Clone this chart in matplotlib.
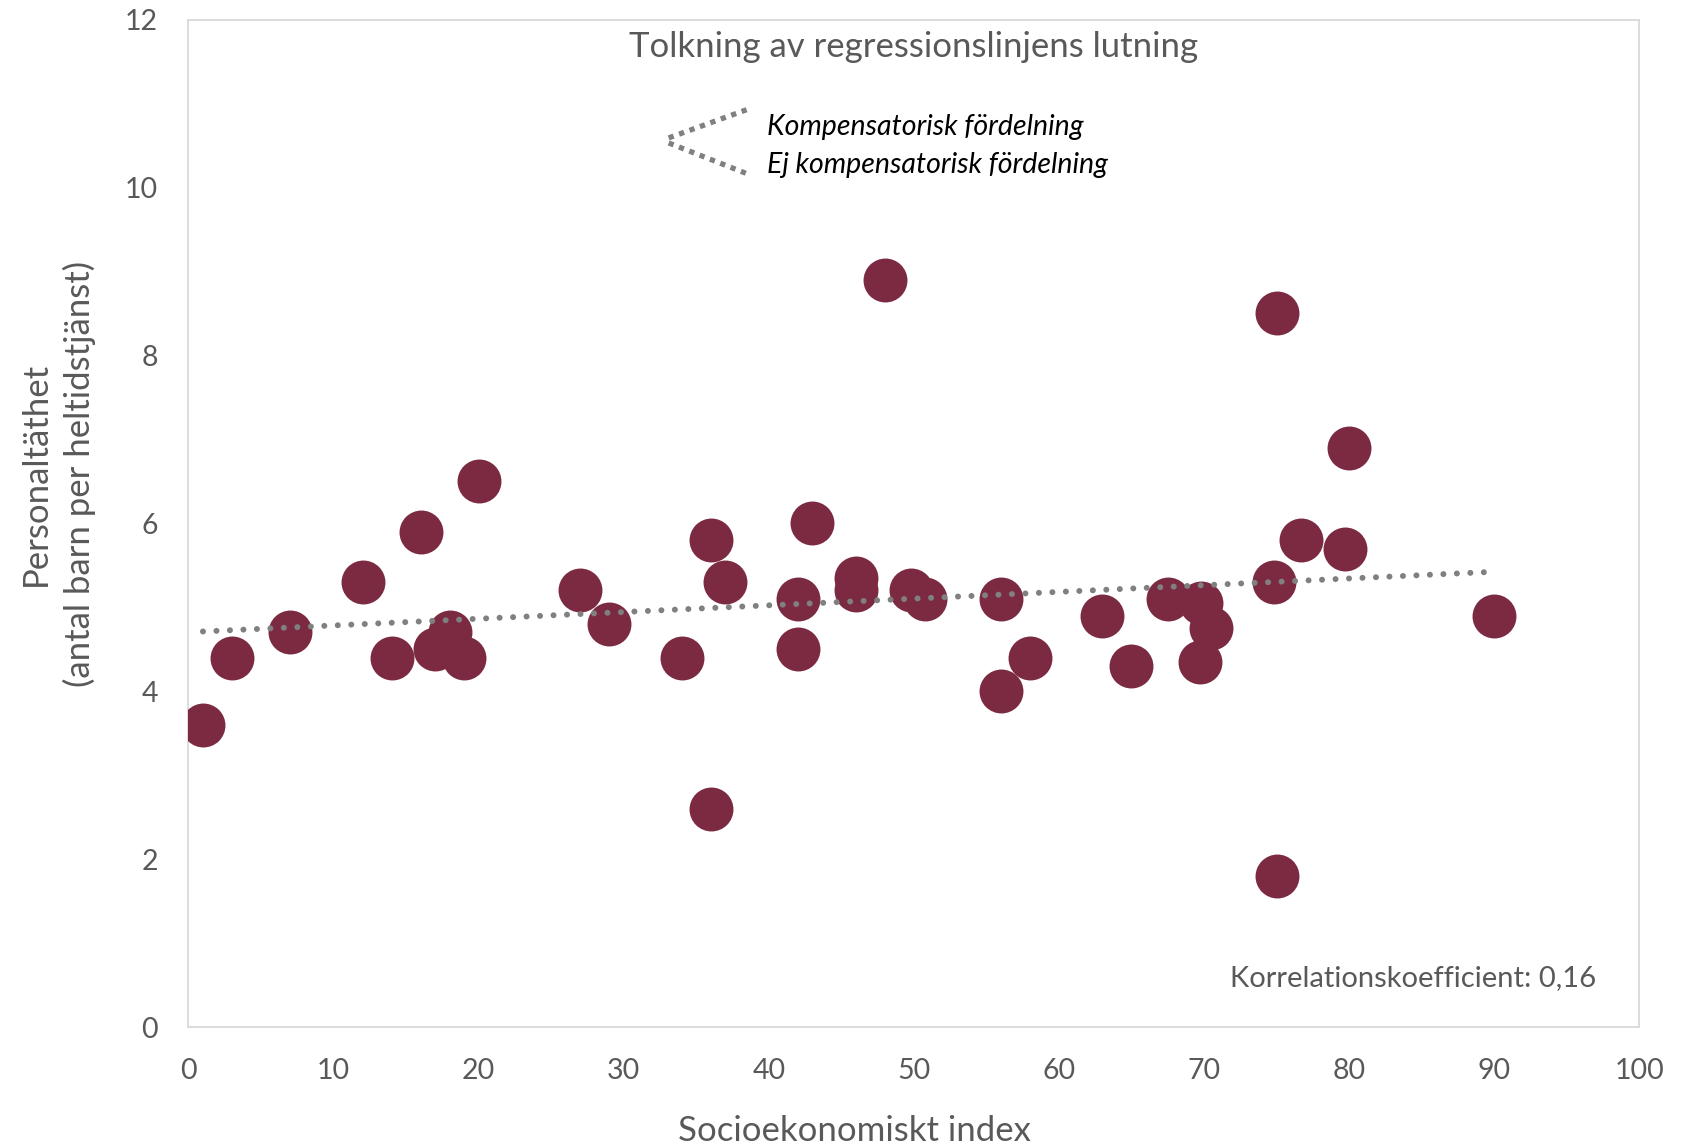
import numpy as np
import matplotlib
matplotlib.use("Agg")
import matplotlib.pyplot as plt

# Socioekonomiskt index vs personaltäthet (barn per heltidstjänst)
ses_index = [1, 3, 7, 12, 14, 16, 17, 18, 19, 20,
             27, 29, 34, 36, 36, 37, 42, 42, 43, 46,
             46, 48, 49.8, 50.8, 56, 56, 58, 63, 65, 67.5,
             69.8, 70.5, 69.7, 75, 74.8, 75, 76.7, 80, 79.7, 90]
staff_density = [3.6, 4.4, 4.7, 5.3, 4.4, 5.9, 4.5, 4.7, 4.4, 6.5,
                 5.2, 4.8, 4.4, 5.8, 2.6, 5.3, 5.1, 4.5, 6.0, 5.35,
                 5.2, 8.9, 5.2, 5.1, 5.1, 4.0, 4.4, 4.9, 4.3, 5.1,
                 5.05, 4.75, 4.35, 8.5, 5.3, 1.8, 5.8, 6.9, 5.7, 4.9]

# small legend sketch for the slope interpretation
legend_up_x = [33.1, 38.7]
legend_up_y = [10.59, 10.94]
legend_down_x = [33.1, 38.7]
legend_down_y = [10.53, 10.15]

x_ticks = list(range(0, 101, 10))
y_ticks = list(range(0, 13, 2))

MAROON = "#7B2A41"
GREY = "#808080"
TEXT = "#595959"

plt.rcParams["font.family"] = ["Lato", "DejaVu Sans"]

fig = plt.figure(figsize=(16.9, 11.48), dpi=100)
ax = fig.add_axes([0.1115, 0.1053, 0.8585, 0.8777])

ax.scatter(ses_index, staff_density, s=1000, c=MAROON, linewidths=0, zorder=3)

# linear trend line, dotted
x = np.array(ses_index)
y = np.array(staff_density)
slope, intercept = np.polyfit(x, y, 1)
xfit = np.array([x.min(), x.max()])
trend, = ax.plot(xfit, slope * xfit + intercept, color=GREY, lw=4.3,
                 zorder=4)
trend.set_dashes([0.01, 2.25])
trend.set_dash_capstyle("round")

for lx, ly in [(legend_up_x, legend_up_y), (legend_down_x, legend_down_y)]:
    ln, = ax.plot(lx, ly, color=GREY, lw=3.8, zorder=4)
    ln.set_dashes([1, 1.1])
    ln.set_dash_capstyle("butt")

ax.text(39.9, 10.72, "Kompensatorisk fördelning", fontsize=20.5,
        style="italic", color="black", va="center", ha="left")
ax.text(39.9, 10.27, "Ej kompensatorisk fördelning", fontsize=20.5,
        style="italic", color="black", va="center", ha="left")
ax.text(50, 11.67, "Tolkning av regressionslinjens lutning", fontsize=25,
        color=TEXT, va="center", ha="center")
ax.text(97, 0.58, "Korrelationskoefficient: 0,16", fontsize=21,
        color=TEXT, va="center", ha="right")

ax.set_xlim(0, 100)
ax.set_ylim(0, 12)
ax.set_xticks(x_ticks)
ax.set_yticks(y_ticks)
ax.tick_params(length=0, labelsize=20.5, labelcolor=TEXT)
ax.tick_params(axis="x", pad=22)
ax.tick_params(axis="y", pad=22)
for sp in ax.spines.values():
    sp.set_color("#D9D9D9")
    sp.set_linewidth(1.3)

ax.set_xlabel("Socioekonomiskt index", fontsize=25, color=TEXT)
ax.set_ylabel("Personaltäthet\n(antal barn per heltidstjänst)", fontsize=25,
              color=TEXT, linespacing=1.4)
ax.xaxis.set_label_coords(0.459, -0.087)
ax.yaxis.set_label_coords(-0.064, 0.549)

fig.savefig("out.png", dpi=100)
